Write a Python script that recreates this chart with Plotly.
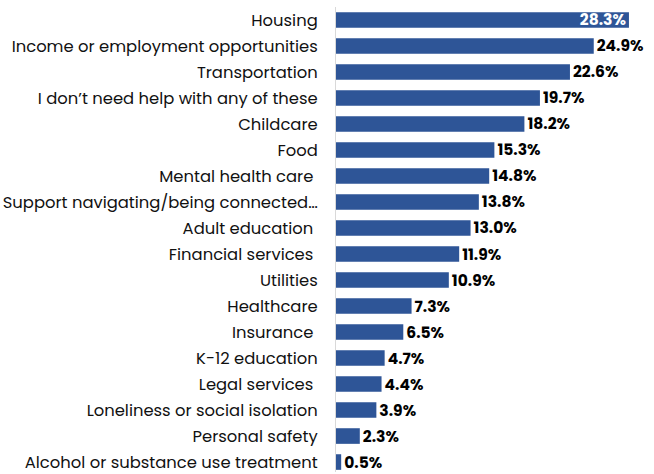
import plotly.graph_objects as go

categories = [
    "Housing",
    "Income or employment opportunities",
    "Transportation",
    "I don’t need help with any of these",
    "Childcare",
    "Food",
    "Mental health care ",
    "Support navigating/being connected…",
    "Adult education ",
    "Financial services ",
    "Utilities",
    "Healthcare",
    "Insurance ",
    "K-12 education",
    "Legal services ",
    "Loneliness or social isolation",
    "Personal safety",
    "Alcohol or substance use treatment",
]
values = [28.3, 24.9, 22.6, 19.7, 18.2, 15.3, 14.8, 13.8, 13.0, 11.9,
          10.9, 7.3, 6.5, 4.7, 4.4, 3.9, 2.3, 0.5]

labels = [f"{v:.1f}%" for v in values]
positions = ["inside" if i == 0 else "outside" for i in range(len(values))]
colors = ["white" if i == 0 else "black" for i in range(len(values))]

fig = go.Figure(go.Bar(
    x=values,
    y=categories,
    orientation="h",
    marker=dict(color="#2E5597", line=dict(width=0)),
    width=0.6,
    text=labels,
    textposition=positions,
    insidetextanchor="end",
    constraintext="none",
    textfont=dict(family="Poppins, Inter, Open Sans, sans-serif", size=15.5,
                  color=colors, weight="bold"),
    cliponaxis=False,
))

fig.update_layout(
    width=654, height=474,
    margin=dict(l=336, r=0, t=7, b=0),
    plot_bgcolor="white", paper_bgcolor="white",
    showlegend=False,
    font=dict(family="Poppins, Inter, Open Sans, sans-serif", size=16.4, color="#111111"),
)
fig.update_xaxes(range=[0, 30.72], visible=False, showgrid=False, zeroline=False)
fig.update_yaxes(
    range=[17.383, -0.498],
    showgrid=False, zeroline=False,
    showline=True, linecolor="#D9D9D9", linewidth=1,
    ticks="", ticklabelstandoff=14,
    tickfont=dict(size=16.4, color="#111111"),
)

fig.write_html("out.html")
